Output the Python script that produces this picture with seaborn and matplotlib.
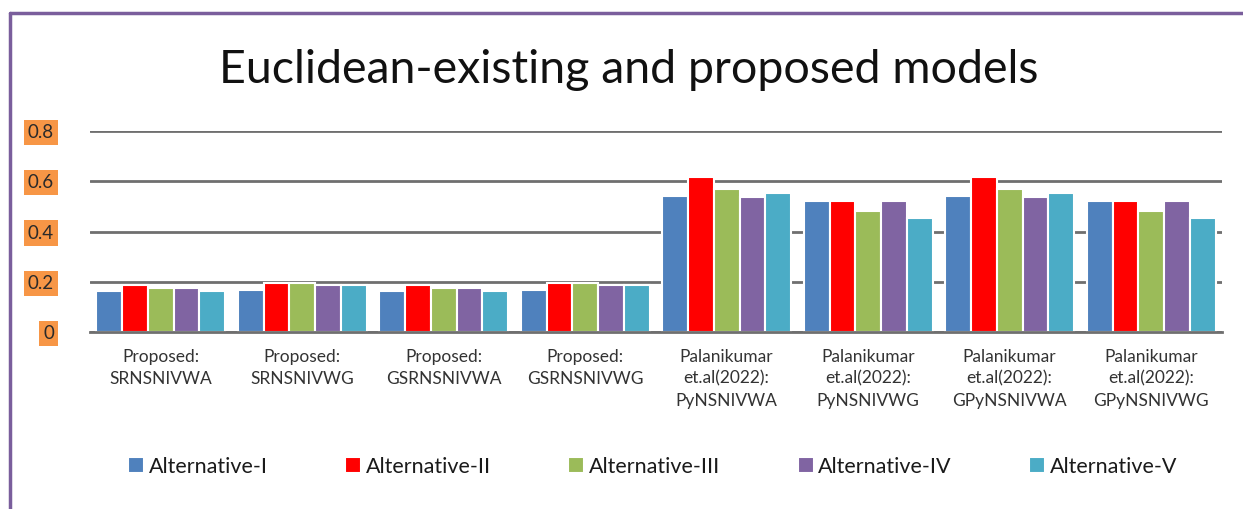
import pandas as pd
import matplotlib
matplotlib.use("Agg")
import matplotlib.pyplot as plt
import seaborn as sns
from matplotlib.lines import Line2D

# data
models = ["Proposed:\nSRNSNIVWA", "Proposed:\nSRNSNIVWG", "Proposed:\nGSRNSNIVWA",
          "Proposed:\nGSRNSNIVWG", "Palanikumar\net.al(2022):\nPyNSNIVWA",
          "Palanikumar\net.al(2022):\nPyNSNIVWG", "Palanikumar\net.al(2022):\nGPyNSNIVWA",
          "Palanikumar\net.al(2022):\nGPyNSNIVWG"]
alternatives = ["Alternative-I", "Alternative-II", "Alternative-III", "Alternative-IV", "Alternative-V"]

alt_1 = [0.163, 0.169, 0.163, 0.166, 0.542, 0.521, 0.542, 0.521]
alt_2 = [0.186, 0.197, 0.186, 0.197, 0.615, 0.523, 0.615, 0.523]
alt_3 = [0.177, 0.197, 0.177, 0.197, 0.568, 0.482, 0.568, 0.482]
alt_4 = [0.177, 0.186, 0.177, 0.186, 0.539, 0.523, 0.539, 0.523]
alt_5 = [0.163, 0.186, 0.163, 0.186, 0.555, 0.454, 0.555, 0.454]

colors = ["#4F81BD", "#FF0000", "#9BBB59", "#8064A2", "#4BACC6"]

rows = []
for alt, vals in zip(alternatives, [alt_1, alt_2, alt_3, alt_4, alt_5]):
    for m, v in zip(models, vals):
        rows.append({"Model": m, "Alternative": alt, "Value": v})
df = pd.DataFrame(rows)

sns.set_style("white")
plt.rcParams['font.family'] = ['Lato', 'DejaVu Sans']

fig = plt.figure(figsize=(12.43, 5.09), dpi=100)
ax = fig.add_axes([0.0724, 0.3477, 0.9106, 0.3949])

sns.barplot(data=df, x="Model", y="Value", hue="Alternative", palette=colors,
            saturation=1, width=0.91, edgecolor="white", linewidth=1.5, ax=ax, legend=True)

ax.set_ylim(0, 0.8)
ax.set_yticks([0, 0.2, 0.4, 0.6, 0.8])
ax.set_yticklabels(["0", "0.2", "0.4", "0.6", "0.8"])
ax.set_xlim(-0.5, len(models) - 0.5)
ax.set_xlabel("")
ax.set_ylabel("")
ax.yaxis.grid(True, color="#6f6f6f", linewidth=2.0)
ax.set_axisbelow(True)
for s in ["top", "right", "left"]:
    ax.spines[s].set_visible(False)
ax.spines["bottom"].set_color("#6f6f6f")
ax.spines["bottom"].set_linewidth(2.0)
ax.tick_params(axis="both", length=0)
ax.tick_params(axis="x", labelsize=12.5, labelcolor="#333333", pad=12)
ax.tick_params(axis="y", labelsize=13.5, labelcolor="#2a2a2a", pad=26)
for lbl in ax.get_yticklabels():
    lbl.set_bbox(dict(facecolor="#F79646", edgecolor="none", pad=3))
for lbl in ax.get_xticklabels():
    lbl.set_linespacing(1.45)

fig.text(0.506, 0.862, "Euclidean-existing and proposed models", ha="center", va="center",
         fontsize=33.5, color="#111111")

handles, labels = ax.get_legend_handles_labels()
ax.legend(handles, labels, loc="center", bbox_to_anchor=(0.525, 0.083), bbox_transform=fig.transFigure,
          ncol=5, frameon=False, fontsize=15.5, handlelength=0.75, handleheight=0.75,
          handletextpad=0.2, columnspacing=3.6, labelcolor="#1a1a1a")

# purple frame round the chart
fig.add_artist(Line2D([10 / 1243, 1.0], [1 - 13 / 509, 1 - 13 / 509], color="#7A5E9C",
                      linewidth=2.5, transform=fig.transFigure))
fig.add_artist(Line2D([10 / 1243, 10 / 1243], [0, 1 - 13 / 509], color="#7A5E9C",
                      linewidth=2.5, transform=fig.transFigure))

fig.savefig("out.png", dpi=100)
